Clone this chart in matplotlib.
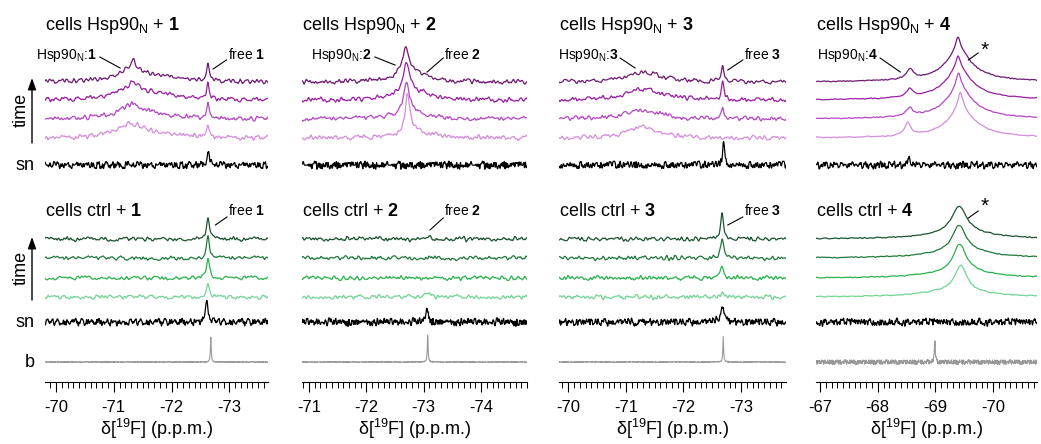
import numpy as np
import matplotlib
matplotlib.use('Agg')
import matplotlib.pyplot as plt
from matplotlib.ticker import FixedLocator, MultipleLocator

plt.rcParams['font.family'] = ['Liberation Sans', 'DejaVu Sans']
plt.rcParams['mathtext.fontset'] = 'custom'
plt.rcParams['mathtext.rm'] = 'Liberation Sans'
plt.rcParams['mathtext.bf'] = 'Liberation Sans:bold'
plt.rcParams['mathtext.it'] = 'Liberation Sans:italic'
plt.rcParams['axes.unicode_minus'] = False

W, H = 1041, 444

# chemical shift window (left, right) and labelled ticks for each compound
compounds = ['1', '2', '3', '4']
ppm_windows = [(-69.81, -73.67), (-70.88, -74.80), (-69.84, -73.78), (-66.93, -70.76)]
major_ticks = [[-70, -71, -72, -73], [-71, -72, -73, -74],
               [-70, -71, -72, -73], [-67, -68, -69, -70]]

# peaks as (shift ppm, height, half width ppm)
# rows: four time points (latest first), then sn (and b for ctrl)
hsp1_peaks = [
    [(-71.30, 11, 0.30), (-71.34, 9, 0.05), (-71.75, 4, 0.5), (-72.63, 17, 0.025)],
    [(-71.30, 11, 0.30), (-71.33, 6, 0.06), (-71.75, 4, 0.5), (-72.63, 16, 0.025)],
    [(-71.30, 10, 0.30), (-71.32, 4, 0.08), (-71.75, 3, 0.5), (-72.63, 14, 0.025)],
    [(-71.30, 13, 0.28), (-71.75, 3, 0.5), (-72.63, 12, 0.025)],
    [(-72.63, 16, 0.02)],
]
hsp2_peaks = [
    [(-72.69, 26, 0.07), (-72.72, 8, 0.30), (-73.02, 4, 0.08)],
    [(-72.70, 28, 0.07), (-72.75, 8, 0.30), (-73.02, 3, 0.08)],
    [(-72.70, 29, 0.06), (-72.78, 8, 0.30)],
    [(-72.72, 37, 0.05), (-72.85, 7, 0.30)],
    [],
]
hsp3_peaks = [
    [(-71.33, 10, 0.35), (-72.68, 17, 0.025)],
    [(-71.30, 11, 0.35), (-72.68, 17, 0.025)],
    [(-71.30, 9, 0.35), (-72.68, 11, 0.025)],
    [(-71.30, 11, 0.30)],
    [(-72.70, 24, 0.02)],
]
hsp4_peaks = [
    [(-68.56, 10, 0.07), (-69.39, 14, 0.05), (-69.40, 25, 0.25), (-69.45, 6, 0.6)],
    [(-68.56, 8, 0.07), (-69.39, 13, 0.05), (-69.40, 25, 0.25), (-69.45, 6, 0.6)],
    [(-68.55, 8, 0.07), (-69.40, 15, 0.05), (-69.41, 25, 0.25), (-69.45, 6, 0.6)],
    [(-68.52, 13, 0.06), (-69.43, 17, 0.05), (-69.44, 23, 0.25), (-69.50, 6, 0.6)],
    [(-68.55, 6, 0.03)],
]
ctrl1_peaks = [
    [(-72.63, 22, 0.03)],
    [(-72.63, 24, 0.028)],
    [(-72.63, 20, 0.03)],
    [(-72.63, 12, 0.03)],
    [(-72.61, 21, 0.03)],
    [(-72.68, 25, 0.008)],
]
ctrl2_peaks = [
    [(-73.08, 4, 0.04)],
    [],
    [],
    [(-73.08, 4, 0.05)],
    [(-73.06, 12, 0.03)],
    [(-73.07, 28, 0.008)],
]
ctrl3_peaks = [
    [(-72.67, 26, 0.03)],
    [(-72.67, 19, 0.03)],
    [(-72.67, 12, 0.035)],
    [(-72.67, 4, 0.04)],
    [(-72.67, 17, 0.035)],
    [(-72.69, 25, 0.008)],
]
ctrl4_peaks = [
    [(-69.41, 26, 0.15), (-69.45, 7, 0.6)],
    [(-69.41, 26, 0.14), (-69.45, 7, 0.6)],
    [(-69.42, 27, 0.13), (-69.45, 7, 0.6)],
    [(-69.44, 25, 0.12), (-69.35, 7, 0.6)],
    [],
    [(-68.99, 20, 0.01)],
]
hsp_peaks = [hsp1_peaks, hsp2_peaks, hsp3_peaks, hsp4_peaks]
ctrl_peaks = [ctrl1_peaks, ctrl2_peaks, ctrl3_peaks, ctrl4_peaks]

# baseline texture, one list reused with different strides
NOISE = [1, -2, 0, 3, -1, 2, -3, 0, 1, 2, -1, -2, 3, 0, -1, 1, -3, 2, 0, -2,
         1, 3, -1, 0, -2, 2, 1, -3, 0, 2, -1, 1, 3, -2, 0, -1, 2, -3, 1, 0,
         -2, 3, 1, -1, 0, 2, -2, -1, 3, 1, 0, -3, 2, -1, 1, -2, 0, 3, -1, 2,
         1, -3, 0, -2, 2, 1, -1, 3, 0, -2, 1, 2, -3, -1, 0, 2, -2, 1, 3, -1,
         0, -3, 1, 2, -2, 0, 1, -1, 3, -2, 2, 0, -1, 1, -3, 2, 3, -2, 0, 1,
         -1, 2, -3, 0, 1, -2, 3, -1, 2, 0, -2, 1, -3, 3, 0, -1, 2, -2, 1, 0,
         3, -1, -3, 2, 1, 0, -2, 3, -1, 1, -2, 0, 2, -3, 1, 2, -1, 0, -2, 3,
         1, -3, 0, 2, -1, -2, 1, 3, -1]

PURPLES = ['#6e1a72', '#9b1fa3', '#b548c4', '#d58ddd']
GREENS = ['#1d5430', '#217a3c', '#2bb24f', '#72d494']

col_px = [(45, 268), (302, 527), (559, 786), (816, 1037)]
hsp_rows = [82, 100, 119, 138, 165]
ctrl_rows = [239, 258, 278, 297, 322, 362]
AXIS_Y = 382
N = 800


def spectrum(x, peaks):
    y = np.zeros_like(x)
    for pos, height, hw in peaks:
        y += height * hw ** 2 / ((x - pos) ** 2 + hw ** 2)
    return y


def texture(n, k, off, rep, width):
    idx = (np.arange(n // rep + 1) * k + off) % len(NOISE)
    v = np.repeat(np.asarray(NOISE, float)[idx], rep)[:n]
    v = np.convolve(v, np.ones(width) / width, mode='same')
    v = v - v.mean()
    return v / v.std()


def fy(py):
    return 1 - py / H


fig = plt.figure(figsize=(W / 100, H / 100), dpi=100)

for c in range(4):
    x0, x1 = col_px[c]
    ax = fig.add_axes([x0 / W, (H - AXIS_Y) / H, (x1 - x0) / W, AXIS_Y / H])
    lo, hi = ppm_windows[c]
    ax.set_xlim(lo, hi)
    ax.set_ylim(AXIS_Y, 0)
    x = np.linspace(lo, hi, N)
    smooth = c == 3

    # Hsp90N rows
    for r in range(5):
        sig = spectrum(x, hsp_peaks[c][r])
        if r < 4:
            amp = 0.25 if smooth else 1.1
            tex = texture(N, 3 + 7 * r + c, 11 * r + 29 * c, 4, 7)
            color = PURPLES[r]
        else:
            amp = 1.8
            tex = texture(N, 5 + c, 17 * c + 3, 2, 3)
            color = 'black'
        ax.plot(x, hsp_rows[r] - sig - amp * tex, color=color, lw=0.9)

    # control rows
    for r in range(6):
        sig = spectrum(x, ctrl_peaks[c][r])
        lw = 0.9
        if r < 4:
            amp = 0.25 if smooth else 1.0
            tex = texture(N, 13 + 5 * r + c, 23 * r + 7 * c + 41, 4, 7)
            color = GREENS[r]
        elif r == 4:
            amp = 1.8
            tex = texture(N, 31 + c, 13 * c + 61, 2, 3)
            color = 'black'
        else:
            amp = 1.3 if smooth else 0.3
            tex = texture(N, 43 + c, 19 * c + 5, 1, 1)
            color, lw = '#999999', 0.8
        ax.plot(x, ctrl_rows[r] - sig - amp * tex, color=color, lw=lw)

    for side in ('top', 'left', 'right'):
        ax.spines[side].set_visible(False)
    ax.spines['bottom'].set_linewidth(0.8)
    ax.yaxis.set_visible(False)
    ax.patch.set_visible(False)
    ax.xaxis.set_major_locator(FixedLocator(major_ticks[c]))
    ax.xaxis.set_minor_locator(MultipleLocator(0.1))
    ax.set_xticklabels([str(t) for t in major_ticks[c]])
    ax.tick_params(axis='x', which='major', length=7, width=0.8, pad=6, labelsize=12)
    ax.tick_params(axis='x', which='minor', length=4, width=0.7)
    fig.text((x0 + x1) / 2 / W, fy(429), r'δ[$^{\mathregular{19}}$F] (p.p.m.)',
             fontsize=13, ha='center', va='center')

    n = compounds[c]
    ax.text(lo, 30, r'cells Hsp90$_{\mathregular{N}}$ + $\mathbf{%s}$' % n,
            fontsize=13, ha='left', va='baseline')
    ax.text(lo, 216, r'cells ctrl + $\mathbf{%s}$' % n,
            fontsize=13, ha='left', va='baseline')

# peak labels with leader lines: (col, text, x, y, ha, line start, line end)
labels = [
    (0, r'Hsp90$_{\mathregular{N}}$:$\mathbf{1}$', -70.71, 59, 'right', (-70.76, 57), (-71.11, 68)),
    (0, r'free $\mathbf{1}$', -72.98, 59, 'left', (-72.95, 60), (-72.72, 69)),
    (1, r'Hsp90$_{\mathregular{N}}$:$\mathbf{2}$', -72.10, 59, 'right', (-72.15, 57), (-72.50, 65)),
    (1, r'free $\mathbf{2}$', -73.36, 59, 'left', (-73.34, 58), (-73.06, 72)),
    (2, r'Hsp90$_{\mathregular{N}}$:$\mathbf{3}$', -70.87, 59, 'right', (-70.90, 58), (-71.16, 68)),
    (2, r'free $\mathbf{3}$', -73.05, 59, 'left', (-73.03, 60), (-72.77, 70)),
    (3, r'Hsp90$_{\mathregular{N}}$:$\mathbf{4}$', -68.01, 59, 'right', (-68.04, 58), (-68.39, 72)),
    (0, r'free $\mathbf{1}$', -72.98, 215, 'left', (-72.96, 217), (-72.76, 225)),
    (1, r'free $\mathbf{2}$', -73.36, 215, 'left', (-73.34, 218), (-73.11, 230)),
    (2, r'free $\mathbf{3}$', -73.05, 215, 'left', (-73.03, 217), (-72.77, 225)),
]
axes = fig.axes
for c, txt, tx, ty, ha, p0, p1 in labels:
    ax = axes[c]
    ax.text(tx, ty, txt, fontsize=10, ha=ha, va='baseline')
    ax.plot([p0[0], p1[0]], [p0[1], p1[1]], color='black', lw=0.8)

# asterisk marks on the compound 4 main peak
for sy, p0, p1 in [(50, (-69.74, 53), (-69.57, 60)), (206, (-69.74, 211), (-69.57, 218))]:
    axes[3].text(-69.86, sy, '*', fontsize=15, ha='center', va='center')
    axes[3].plot([p0[0], p1[0]], [p0[1], p1[1]], color='black', lw=0.8)

for top, bottom, mid in [(78, 143, 110), (237, 300, 268)]:
    fig.text(21 / W, fy(mid), 'time', fontsize=13, rotation=90, ha='center', va='center')
    axes[0].annotate('', xy=(32 / W, fy(top)), xytext=(32 / W, fy(bottom)),
                     xycoords='figure fraction', textcoords='figure fraction',
                     arrowprops=dict(arrowstyle='-|>,head_width=0.25,head_length=0.7',
                                     color='black', lw=1.0, shrinkA=0, shrinkB=0))
fig.text(25 / W, fy(165), 'sn', fontsize=13, ha='center', va='center')
fig.text(25 / W, fy(322), 'sn', fontsize=13, ha='center', va='center')
fig.text(30 / W, fy(362), 'b', fontsize=13, ha='center', va='center')

fig.savefig('out.png', dpi=100)
